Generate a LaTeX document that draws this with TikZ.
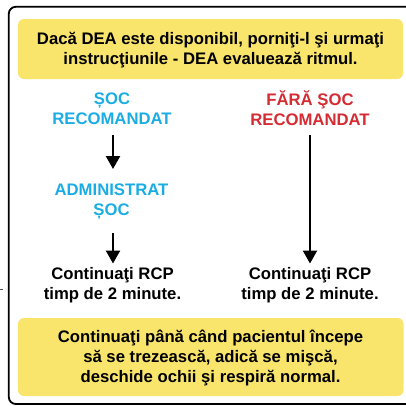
\documentclass[tikz,border=0pt]{standalone}
\usepackage{fontspec}
\setmainfont{Liberation Sans}
\usetikzlibrary{arrows.meta}
\definecolor{boxyellow}{HTML}{FAE56C}
\definecolor{shockblue}{HTML}{1AADE4}
\definecolor{shockred}{HTML}{D52B32}
\tikzset{
  yellowbox/.style={fill=boxyellow, rounded corners=6pt, draw=none},
  label/.style={font=\bfseries\fontsize{16.7}{20}\selectfont, align=center, inner sep=0pt},
  bluelabel/.style={label, text=shockblue},
  redlabel/.style={label, text=shockred},
  flow/.style={line width=2.3pt, -{Triangle[length=13pt,width=14pt]}},
}
\begin{document}
\begin{tikzpicture}[x=1pt,y=-1pt]
\useasboundingbox (0,0) rectangle (406,405);
\clip (0,0) rectangle (406,405);
% outer frame (extends beyond right and bottom)
\draw[line width=1.8pt, rounded corners=7pt] (8.8,6.8) rectangle (430,404);
\draw[line width=0.6pt, black!70] (0,289) -- (2.5,289);
% yellow boxes
\fill[yellowbox] (18,19) rectangle (403,79);
\fill[yellowbox] (18,318) rectangle (403.5,396);
\node[label] (top) at (210.5,50) {Dacă DEA este disponibil, porniţi-l şi urmaţi\\instrucţiunile - DEA evaluează ritmul.};
\node[bluelabel] (shock) at (112,108.5) {ȘOC\\RECOMANDAT};
\node[redlabel] (noshock) at (310,108.5) {FĂRĂ ŞOC\\RECOMANDAT};
\node[bluelabel] (admin) at (111.5,202) {ADMINISTRAT\\ȘOC};
\node[label] (cprL) at (112.5,285) {Continuaţi RCP\\timp de 2 minute.};
\node[label] (cprR) at (310,285) {Continuaţi RCP\\timp de 2 minute.};
\node[label] (bottom) at (210.5,357.5) {Continuaţi până când pacientul începe\\să se trezească, adică se mişcă,\\deschide ochii şi respiră normal.};
\coordinate (a1s) at (113,135);
\coordinate (a1e) at (113,169);
\coordinate (a2s) at (113,233);
\coordinate (a2e) at (113,263.5);
\coordinate (a3s) at (310,135);
\coordinate (a3e) at (310,263.5);
\draw[flow] (a1s) -- (a1e);
\draw[flow] (a2s) -- (a2e);
\draw[flow] (a3s) -- (a3e);
\end{tikzpicture}
\end{document}
